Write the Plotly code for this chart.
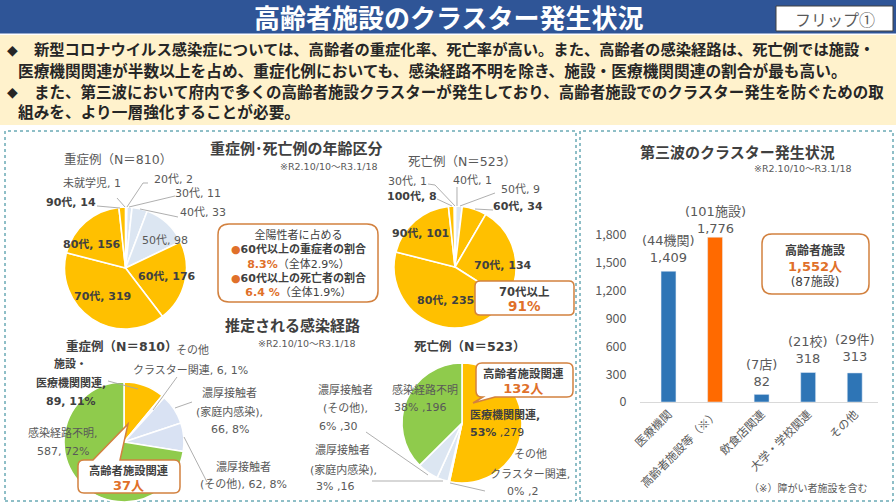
import plotly.graph_objects as go

W, H = 896, 504
CJK = "Noto Sans CJK JP"
FONT = "DejaVu Sans, Noto Sans CJK JP"
GRAY = "#595959"
DARK = "#404040"
ORANGE = "#e0702a"
AMBER = "#ffc000"
PALE = "#dce6f2"
GREEN = "#8fcb4c"

# ---- data ----
sev_age_labels = ["未就学児", "20代", "30代", "40代", "50代", "60代", "70代", "80代", "90代"]
sev_age_values = [1, 2, 11, 33, 98, 176, 319, 156, 14]
death_age_labels = ["40代", "50代", "60代", "70代", "80代", "90代", "100代", "30代"]
death_age_values = [1, 9, 34, 134, 235, 101, 8, 1]
route_labels = ["施設・医療機関関連", "その他クラスター関連", "濃厚接触者（家庭内感染）", "濃厚接触者（その他）", "感染経路不明"]
sev_route_values = [89, 6, 66, 62, 587]
sev_route_pct = [11, 1, 8, 8, 72]
death_route_values = [279, 2, 16, 30, 196]
death_route_pct = [53, 0, 3, 6, 38]
bar_categories = ["医療機関", "高齢者施設等（※）", "飲食店関連", "大学・学校関連", "その他"]
bar_values = [1409, 1776, 82, 318, 313]
bar_units = ["(44機関)", "(101施設)", "(7店)", "(21校)", "(29件)"]
bar_ticks = [0, 300, 600, 900, 1200, 1500, 1800]


def px(x):
    return x / W


def py(y):
    return 1 - y / H


def pt(x, y):
    return f"{px(x):.5f} {py(y):.5f}"


shapes = []
annots = []


def rect(x0, y0, x1, y1, fill="rgba(0,0,0,0)", line=None, lw=1, dash=None, layer="below"):
    shapes.append(dict(type="rect", xref="paper", yref="paper", x0=px(x0), x1=px(x1), y0=py(y1), y1=py(y0),
                       fillcolor=fill, line=dict(color=line or "rgba(0,0,0,0)", width=lw if line else 0, dash=dash),
                       layer=layer))


def polyline(points, color="#a6a6a6", lw=0.9):
    d = "M " + " L ".join(pt(*p) for p in points)
    shapes.append(dict(type="path", xref="paper", yref="paper", path=d, line=dict(color=color, width=lw), layer="above"))


def callout(x0, y0, x1, y1, r=7, pointer=None, side=None):
    """Rounded box; pointer = (tipx, tipy, base_a, base_b) along the top or bottom edge."""
    seg = [f"M {pt(x0 + r, y0)}"]
    if pointer and side == "top":
        tx, ty, a, b = pointer
        seg += [f"L {pt(a, y0)}", f"L {pt(tx, ty)}", f"L {pt(b, y0)}"]
    seg += [f"L {pt(x1 - r, y0)}", f"Q {pt(x1, y0)} {pt(x1, y0 + r)}", f"L {pt(x1, y1 - r)}", f"Q {pt(x1, y1)} {pt(x1 - r, y1)}"]
    if pointer and side == "bottom":
        tx, ty, a, b = pointer
        seg += [f"L {pt(b, y1)}", f"L {pt(tx, ty)}", f"L {pt(a, y1)}"]
    seg += [f"L {pt(x0 + r, y1)}", f"Q {pt(x0, y1)} {pt(x0, y1 - r)}", f"L {pt(x0, y0 + r)}", f"Q {pt(x0, y0)} {pt(x0 + r, y0)}", "Z"]
    shapes.append(dict(type="path", xref="paper", yref="paper", path=" ".join(seg), fillcolor="white",
                       line=dict(color="#d2813f", width=1.5), layer="above"))


def T(x, y, text, size=11, color=GRAY, bold=False, anchor="center", family=FONT):
    # the DejaVu line box sits higher on the glyphs than the CJK one, so nudge by a tenth of the size
    annots.append(dict(xref="paper", yref="paper", x=px(x), y=py(y + 0.09 * size), text=f"<b>{text}</b>" if bold else text,
                       showarrow=False, xanchor=anchor, yanchor="middle", borderpad=0,
                       font=dict(size=size, color=color, family=family)))


def big_orange(text, size):
    return f'<span style="font-size:{size}px;color:{ORANGE}"><b>{text}</b></span>'


def pie(values, labels, colors, cx, cy, r):
    return go.Pie(values=values, labels=labels, sort=False, direction="clockwise", rotation=0,
                  textinfo="none", showlegend=False, hoverinfo="label+value", automargin=False,
                  marker=dict(colors=colors, line=dict(color="white", width=1.6)),
                  domain=dict(x=[px(cx - r), px(cx + r)], y=[py(cy + r), py(cy - r)]))


# ---- backgrounds ----
rect(0, 0, W, 33.5, fill="#2f5597")
rect(0, 35, W, 125, fill="#fff2cc")
rect(5, 131, 576, 501, line="#1f7f8f", lw=1, dash="dot")
rect(580, 131, 893, 501, line="#1f7f8f", lw=1, dash="dot")
rect(776, 6, 893, 31, fill="white", line="#404040", lw=1, layer="above")

T(448, 16.5, "高齢者施設のクラスター発生状況", 26, "white", True)
T(835, 18, "フリップ①", 16, GRAY, family=CJK)
T(6, 49, "◆", 14, "#262626", True, "left")
T(33, 49, "新型コロナウイルス感染症については、高齢者の重症化率、死亡率が高い。また、高齢者の感染経路は、死亡例では施設・", 15.3, "#262626", True, "left")
T(17, 70, "医療機関関連が半数以上を占め、重症化例においても、感染経路不明を除き、施設・医療機関関連の割合が最も高い。", 15.7, "#262626", True, "left")
T(6, 91, "◆", 14, "#262626", True, "left")
T(33, 91, "また、第三波において府内で多くの高齢者施設クラスターが発生しており、高齢者施設でのクラスター発生を防ぐための取", 15.5, "#262626", True, "left")
T(17, 111, "組みを、より一層強化することが必要。", 15.7, "#262626", True, "left")

# ---- pies ----
sev_age_colors = [PALE, PALE, PALE, PALE, PALE, AMBER, AMBER, AMBER, AMBER]
death_age_colors = [PALE, PALE, AMBER, AMBER, AMBER, AMBER, AMBER, PALE]
route_colors = [AMBER, "#fff2cc", "#d9e2f3", "#d9e2f3", GREEN]
death_route_colors = [AMBER, "#fff2cc", PALE, PALE, GREEN]

traces = [
    pie(sev_age_values, sev_age_labels, sev_age_colors, 125.5, 268, 61),
    pie(death_age_values, death_age_labels, death_age_colors, 455, 267, 61),
    pie(sev_route_values, route_labels, route_colors, 124, 442, 60),
    pie(death_route_values, route_labels, death_route_colors, 462, 423, 60),
]

# section titles
T(296, 148, "重症例･死亡例の年齢区分", 15, DARK, True)
T(329, 166, "※R2.10/10～R3.1/18", 9.5, GRAY)
T(118, 158, "重症例（N＝810）", 12.5, GRAY)
T(462, 160, "死亡例（N＝523）", 12.5, GRAY)
T(292, 325, "推定される感染経路", 15, DARK, True)
T(307, 343, "※R2.10/10～R3.1/18", 9.5, GRAY)
T(122, 345, "重症例（N＝810）", 12.5, DARK, True)
T(470, 345, "死亡例（N＝523）", 12.5, DARK, True)

# severe by age
sev_pos = [(92, 182), (173, 179), (198, 193), (203, 212), (165, 240), (167, 276), (102, 296), (92, 244), (71, 202)]
sev_bold = [False, False, False, False, False, True, True, True, True]
for lab, val, (x, y), b in zip(sev_age_labels, sev_age_values, sev_pos, sev_bold):
    T(x, y, f"{lab}, {val}", 11, DARK if b else GRAY, b)
polyline([(117, 198), (125, 207)])
polyline([(148, 183), (143, 183), (127, 207)])
polyline([(175, 196), (129, 207)])
polyline([(178, 217), (140, 209)])
polyline([(97, 206), (120, 208)])

# deaths by age
death_pos = [(472, 180), (520, 189), (518, 206), (503, 265), (445, 300), (420, 233), (412, 196), (407, 181)]
death_bold = [False, False, True, True, True, True, True, False]
for lab, val, (x, y), b in zip(death_age_labels, death_age_values, death_pos, death_bold):
    T(x, y, f"{lab}, {val}", 11, DARK if b else GRAY, b)
polyline([(428, 184), (435, 185), (455, 206)])
polyline([(437, 199), (452, 206)])
polyline([(457, 187), (457, 206)])
polyline([(495, 193), (460, 206)])
polyline([(493, 210), (475, 209)])

# centre info box
callout(218, 224, 378, 302, r=11)
dot = f'<span style="color:{ORANGE}">●</span>'
T(298, 263,
  "全陽性者に占める<br>"
  f"{dot}<b>60代以上の重症者の割合</b><br>"
  f'{big_orange("8.3%", 11)}（全体2.9%）<br>'
  f"{dot}<b>60代以上の死亡者の割合</b><br>"
  f'{big_orange("6.4 %", 11)}（全体1.9%）', 11, DARK)

# 70+ box
callout(475, 281, 574, 315, r=5)
T(524, 298, f'70代以上<br>{big_orange("91%", 13.5)}', 11.5, DARK, True)

# severe by route
T(192, 350, "その他", 11, GRAY)
T(190, 369, f"クラスター関連, {sev_route_values[1]}, {sev_route_pct[1]}%", 11, GRAY)
T(70, 363, "施設・", 11, DARK, True)
T(71, 382, "医療機関関連,", 11, DARK, True)
T(71, 401, f"{sev_route_values[0]}, {sev_route_pct[0]}%", 11, DARK, True)
T(230, 392, "濃厚接触者", 11, GRAY)
T(230, 411, "(家庭内感染),", 11, GRAY)
T(230, 429, f"{sev_route_values[2]}, {sev_route_pct[2]}%", 11, GRAY)
T(243, 466, "濃厚接触者", 11, GRAY)
T(243, 484, f"(その他), {sev_route_values[3]}, {sev_route_pct[3]}%", 11, GRAY)
T(63, 432, "感染経路不明,", 11, GRAY)
T(63, 451, f"{sev_route_values[4]}, {sev_route_pct[4]}%", 11, GRAY)
polyline([(108, 381), (138, 389)])
polyline([(177, 377), (153, 410)])
polyline([(192, 402), (175, 408)])
polyline([(184, 437), (207, 482)])

callout(78, 460, 180, 493, r=6, pointer=(128, 424, 93, 120), side="top")
T(128, 477, f'高齢者施設関連<br>{big_orange("37人", 13)}', 11.3, DARK, True)

# deaths by route
T(425, 389, "感染経路不明", 11, GRAY)
T(420, 407, f"{death_route_pct[4]}% ,{death_route_values[4]}", 11, GRAY)
T(345, 389, "濃厚接触者", 11, GRAY)
T(345, 408, "(その他),", 11, GRAY)
T(338, 426, f"{death_route_pct[3]}% ,{death_route_values[3]}", 11, GRAY)
T(342, 449, "濃厚接触者", 11, GRAY)
T(343, 469, "(家庭内感染),", 11, GRAY)
T(335, 486, f"{death_route_pct[2]}% ,{death_route_values[2]}", 11, GRAY)
T(505, 414, "医療機関関連,", 11, DARK, True)
T(497, 432, f"<b>{death_route_pct[0]}%</b> ,{death_route_values[0]}", 11, DARK)
T(530, 454, "その他", 11, GRAY)
T(530, 473, "クラスター関連,", 11, GRAY)
T(522, 491, f"{death_route_pct[1]}% ,{death_route_values[1]}", 11, GRAY)
polyline([(366, 432), (428, 475)])
polyline([(372, 481), (443, 481)])
polyline([(450, 483), (485, 491)])

callout(476, 363, 573, 397, r=6, pointer=(473, 403, 483, 495), side="bottom")
T(523, 380, f'高齢者施設関連<br>{big_orange("132人", 13)}', 11.5, DARK, True)

# ---- bars ----
traces.append(go.Bar(x=bar_categories, y=bar_values, width=0.32, showlegend=False,
                     marker=dict(color=["#2e75b6", "#ff6a00", "#2e75b6", "#2e75b6", "#2e75b6"]),
                     xaxis="x", yaxis="y", hoverinfo="x+y"))

label_shift = [22, 17.5, 21.5, 22.5, 24.5]
for cat, val, unit, sh in zip(bar_categories, bar_values, bar_units, label_shift):
    annots.append(dict(xref="x", yref="y", x=cat, y=val, text=f"{unit}<br>{val:,}", showarrow=False, yshift=sh,
                       yanchor="middle", font=dict(size=13, color=GRAY, family=FONT)))

T(737, 152, "第三波のクラスター発生状況", 15, DARK, True)
T(803, 168, "※R2.10/10～R3.1/18", 9.5, GRAY)
T(808, 487, "（※）障がい者施設を含む", 10, GRAY)

callout(762, 234, 869, 294, r=10)
T(815, 265, f'<b>高齢者施設</b><br>{big_orange("1,552人", 13)}<br>(87施設)', 12, DARK)

fig = go.Figure(traces)
fig.update_layout(
    width=W, height=H, margin=dict(l=0, r=0, t=0, b=0, pad=0, autoexpand=False), autosize=False,
    paper_bgcolor="white", plot_bgcolor="white",
    font=dict(family=FONT, color=GRAY), showlegend=False,
    shapes=shapes, annotations=annots,
    xaxis=dict(domain=[px(640), px(878)], type="category", categoryorder="array", categoryarray=bar_categories,
               automargin=False, tickangle=-45, tickfont=dict(size=11.5, color=GRAY, family=CJK), showgrid=False, ticks="",
               showline=True, linecolor="#d9d9d9", linewidth=1, fixedrange=True),
    yaxis=dict(domain=[py(402), py(235)], range=[0, 1800], tickvals=bar_ticks, tickformat=",",
               automargin=False, tickfont=dict(size=12.5, color=GRAY, family=CJK), showgrid=False, zeroline=False, showline=False,
               ticks="outside", ticklen=10, tickcolor="rgba(0,0,0,0)", fixedrange=True),
)

fig.write_html("out.html", post_script="document.body.style.margin='0';document.body.style.overflow='hidden';",
               config={"displayModeBar": False})
